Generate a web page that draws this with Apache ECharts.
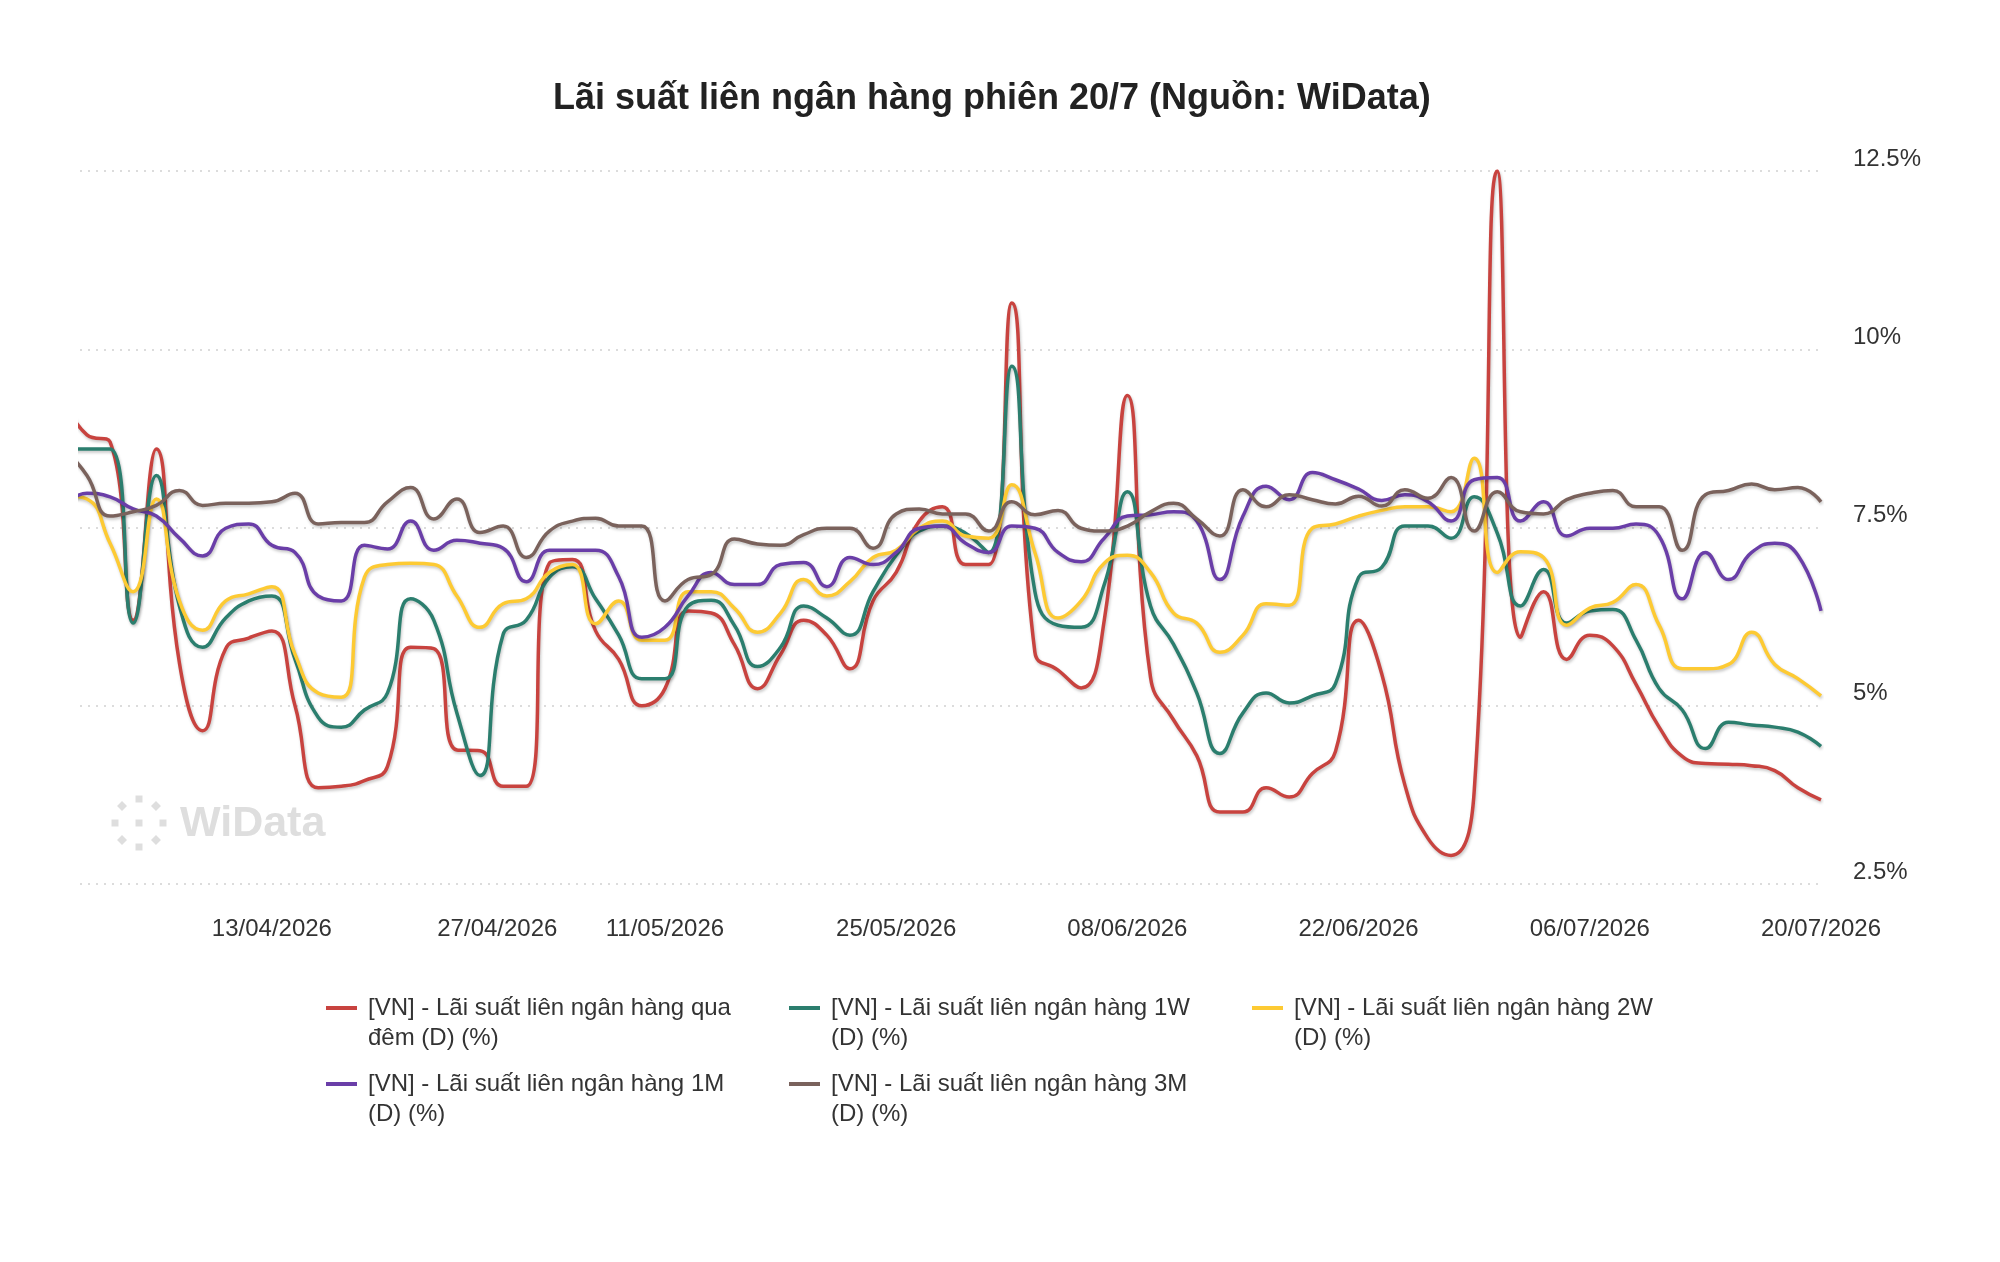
<!DOCTYPE html>
<html>
<head>
<meta charset="utf-8">
<script src="https://cdn.jsdelivr.net/npm/echarts@6/dist/echarts.min.js"></script>
<style>
  html, body { margin: 0; background: #fff; }
  #chart { width: 2000px; height: 1262px; }
</style>
</head>
<body>
<div id="chart"></div>
<script>
// phiên giao dịch (bỏ nghỉ lễ 27/4, 30/4, 1/5)
const dates = [
  '31/03/2026',
  '01/04/2026', '02/04/2026', '03/04/2026', '06/04/2026', '07/04/2026', '08/04/2026', '09/04/2026', '10/04/2026',
  '13/04/2026', '14/04/2026', '15/04/2026', '16/04/2026', '17/04/2026', '20/04/2026', '21/04/2026', '22/04/2026',
  '23/04/2026', '24/04/2026', '28/04/2026', '29/04/2026',
  '04/05/2026', '05/05/2026', '06/05/2026', '07/05/2026', '08/05/2026', '11/05/2026', '12/05/2026', '13/05/2026',
  '14/05/2026', '15/05/2026', '18/05/2026', '19/05/2026', '20/05/2026', '21/05/2026', '22/05/2026', '25/05/2026',
  '26/05/2026', '27/05/2026', '28/05/2026', '29/05/2026',
  '01/06/2026', '02/06/2026', '03/06/2026', '04/06/2026', '05/06/2026', '08/06/2026', '09/06/2026', '10/06/2026',
  '11/06/2026', '12/06/2026', '15/06/2026', '16/06/2026', '17/06/2026', '18/06/2026', '19/06/2026', '22/06/2026',
  '23/06/2026', '24/06/2026', '25/06/2026', '26/06/2026', '29/06/2026', '30/06/2026',
  '01/07/2026', '02/07/2026', '03/07/2026', '06/07/2026', '07/07/2026', '08/07/2026', '09/07/2026', '10/07/2026',
  '13/07/2026', '14/07/2026', '15/07/2026', '16/07/2026', '17/07/2026', '20/07/2026'
];

const tickLabels = ['13/04/2026', '27/04/2026', '11/05/2026', '25/05/2026', '08/06/2026', '22/06/2026', '06/07/2026', '20/07/2026'];

const seriesNames = [
  '[VN] - Lãi suất liên ngân hàng qua\nđêm (D) (%)',
  '[VN] - Lãi suất liên ngân hàng 1W\n(D) (%)',
  '[VN] - Lãi suất liên ngân hàng 2W\n(D) (%)',
  '[VN] - Lãi suất liên ngân hàng 1M\n(D) (%)',
  '[VN] - Lãi suất liên ngân hàng 3M\n(D) (%)'
];

const overnight = [
  9.3, 8.8, 8.7, 6.2, 8.6, 5.6, 4.65, 5.8, 5.95, 6.05, 5.0, 3.85, 3.87, 3.95, 4.15, 5.82, 5.8, 4.38, 4.37, 3.87,
  3.87, 7.0, 7.05, 6.05, 5.65, 5.0, 5.24, 6.33, 6.3, 5.86, 5.24, 5.72, 6.2, 5.99, 5.52, 6.47, 6.87, 7.59, 7.79, 6.98,
  6.98, 10.65, 5.75, 5.5, 5.25, 6.2, 9.35, 5.4, 4.8, 4.3, 3.51, 3.51, 3.85, 3.72, 4.05, 4.36, 6.2, 5.45, 3.89, 3.14,
  2.9, 3.8, 12.5, 5.96, 6.6, 5.65, 5.99, 5.84, 5.3, 4.7, 4.29, 4.19, 4.18, 4.16, 4.09, 3.85, 3.68
];
const week1 = [
  8.6, 8.6, 8.6, 6.16, 8.23, 6.4, 5.82, 6.23, 6.47, 6.54, 5.65, 4.84, 4.7, 4.94, 5.18, 6.5, 6.2, 4.9, 4.02, 6.0,
  6.2, 6.8, 6.95, 6.5, 5.99, 5.38, 5.38, 6.4, 6.48, 6.13, 5.55, 5.82, 6.4, 6.23, 5.99, 6.6, 7.11, 7.45, 7.52, 7.42,
  7.15, 9.76, 6.6, 6.13, 6.1, 6.7, 8.0, 6.4, 5.86, 5.18, 4.33, 4.9, 5.18, 5.04, 5.14, 5.31, 6.8, 6.94, 7.52, 7.52,
  7.35, 7.93, 7.42, 6.4, 6.91, 6.16, 6.33, 6.35, 5.92, 5.24, 4.94, 4.4, 4.77, 4.73, 4.7, 4.63, 4.43
];
const week2 = [
  7.95, 7.9, 7.28, 6.6, 7.9, 6.47, 6.06, 6.47, 6.57, 6.67, 5.72, 5.18, 5.12, 6.8, 6.98, 7.0, 6.98, 6.54, 6.1, 6.43,
  6.5, 6.87, 6.98, 6.15, 6.47, 5.92, 5.92, 6.6, 6.6, 6.37, 6.03, 6.3, 6.77, 6.54, 6.74, 7.08, 7.18, 7.49, 7.59, 7.38,
  7.35, 8.1, 7.15, 6.23, 6.47, 7.0, 7.11, 6.87, 6.3, 6.16, 5.75, 5.99, 6.43, 6.41, 7.49, 7.55, 7.66, 7.74, 7.79, 7.79,
  7.72, 8.47, 6.87, 7.16, 7.08, 6.13, 6.37, 6.45, 6.7, 6.13, 5.52, 5.52, 5.58, 6.03, 5.58, 5.38, 5.14
];
const month1 = [
  7.8, 7.98, 7.93, 7.76, 7.66, 7.35, 7.1, 7.49, 7.55, 7.25, 7.15, 6.54, 6.47, 7.25, 7.2, 7.59, 7.18, 7.32, 7.28, 7.21,
  6.74, 7.18, 7.18, 7.18, 6.81, 5.96, 6.1, 6.54, 6.87, 6.7, 6.7, 6.98, 7.01, 6.67, 7.08, 6.98, 7.15, 7.49, 7.52, 7.28,
  7.15, 7.52, 7.49, 7.15, 7.02, 7.35, 7.66, 7.68, 7.72, 7.59, 6.77, 7.66, 8.08, 7.89, 8.27, 8.17, 8.04, 7.88, 7.96, 7.86,
  7.59, 8.17, 8.2, 7.59, 7.86, 7.38, 7.49, 7.49, 7.55, 7.38, 6.5, 7.15, 6.77, 7.15, 7.28, 7.11, 6.33
];
const month3 = [
  8.6, 8.23, 7.66, 7.72, 7.81, 8.02, 7.81, 7.84, 7.84, 7.86, 7.98, 7.55, 7.57, 7.57, 7.86, 8.06, 7.62, 7.9, 7.43, 7.52,
  7.08, 7.45, 7.59, 7.63, 7.52, 7.52, 6.47, 6.77, 6.84, 7.34, 7.27, 7.25, 7.4, 7.49, 7.49, 7.21, 7.69, 7.76, 7.69, 7.69,
  7.45, 7.86, 7.68, 7.74, 7.49, 7.45, 7.52, 7.72, 7.84, 7.62, 7.38, 8.03, 7.79, 7.96, 7.89, 7.83, 7.94, 7.8, 8.03, 7.91,
  8.2, 7.45, 8.0, 7.72, 7.69, 7.89, 7.98, 8.02, 7.79, 7.79, 7.18, 7.96, 8.02, 8.11, 8.03, 8.06, 7.86
];

const colors = ['#c8433f', '#2b7e6e', '#fdca33', '#6a3ea8', '#7a625c'];
const font = "'Liberation Sans', Arial, sans-serif";

// vị trí nhãn theo trục thứ tự (ngày nghỉ nội suy giữa hai phiên)
function toTime(s) {
  const [d, m, y] = s.split('/').map(Number);
  return Date.UTC(y, m - 1, d);
}
const times = dates.map(toTime);
function ordinalPos(label) {
  const t = toTime(label);
  for (let i = 0; i < times.length - 1; i++) {
    if (t >= times[i] && t <= times[i + 1]) {
      return i + (t - times[i]) / (times[i + 1] - times[i]);
    }
  }
  return times.length - 1;
}
const tickPos = tickLabels.map(ordinalPos);

const chart = echarts.init(document.getElementById('chart'));

// dòng trống phía trên để biểu tượng thẳng hàng với dòng đầu của chú thích
const legendCommon = {
  orient: 'horizontal',
  padding: 0,
  itemGap: 16,
  itemWidth: 31,
  itemHeight: 4,
  icon: 'rect',
  width: 1450,
  formatter: (name) => '\n' + name,
  textStyle: {
    fontFamily: font,
    fontSize: 24,
    color: '#333',
    lineHeight: 30,
    width: 405,
    padding: [0, 0, 0, 6]
  }
};

// logo chấm tròn của watermark
const logoDots = [{ type: 'rect', x: 139, y: 823, shape: { x: -3.5, y: -3.5, width: 7, height: 7 }, style: { fill: '#dedede' } }];
for (let k = 0; k < 8; k++) {
  const a = k * Math.PI / 4;
  logoDots.push({
    type: 'rect',
    x: 139 + 24 * Math.cos(a),
    y: 823 + 24 * Math.sin(a),
    rotation: -a,
    shape: { x: -3.5, y: -3.5, width: 7, height: 7 },
    style: { fill: '#dedede' }
  });
}

const option = {
  backgroundColor: '#fff',
  animation: false,
  color: colors,
  title: {
    text: 'Lãi suất liên ngân hàng phiên 20/7 (Nguồn: WiData)',
    left: 548,
    top: 76,
    textStyle: { fontFamily: font, fontSize: 36, fontWeight: 'bold', color: '#222' }
  },
  graphic: [
    ...logoDots,
    {
      type: 'text',
      left: 180,
      top: 803,
      style: { text: 'WiData', font: "bold 43px 'Liberation Sans', Arial, sans-serif", fill: '#dedede' }
    }
  ],
  legend: [
    Object.assign({ data: seriesNames.slice(0, 3), left: 326, top: 963 }, legendCommon),
    Object.assign({ data: seriesNames.slice(3), left: 326, top: 1039 }, legendCommon)
  ],
  grid: { left: 80, right: 179, top: 171, bottom: 378 },
  xAxis: {
    type: 'value',
    min: 0.7,
    max: dates.length - 1,
    axisLine: { show: false },
    axisTick: { show: false },
    splitLine: { show: false },
    axisLabel: {
      customValues: tickPos,
      margin: 33,
      fontFamily: font,
      fontSize: 24,
      color: '#333',
      formatter: (v) => {
        const k = tickPos.findIndex((p) => Math.abs(p - v) < 1e-6);
        return k >= 0 ? tickLabels[k] : '';
      }
    }
  },
  yAxis: {
    type: 'value',
    position: 'right',
    min: 2.5,
    max: 12.5,
    interval: 2.5,
    axisLine: { show: false },
    axisTick: { show: false },
    splitLine: { lineStyle: { color: '#dcdcdc', width: 2, type: [2, 6] } },
    axisLabel: {
      margin: 32,
      fontFamily: font,
      fontSize: 24,
      color: '#333',
      verticalAlign: 'bottom',
      formatter: (v) => v + '%'
    }
  },
  series: [overnight, week1, week2, month1, month3].map((vals, s) => ({
    name: seriesNames[s],
    type: 'line',
    smooth: true,
    showSymbol: false,
    data: vals.map((v, i) => [i, v]),
    lineStyle: {
      width: 3.5,
      color: colors[s],
      shadowColor: 'rgba(0,0,0,0.22)',
      shadowBlur: 3,
      shadowOffsetX: 1,
      shadowOffsetY: 2
    },
    itemStyle: { color: colors[s] }
  }))
};

chart.setOption(option);
</script>
</body>
</html>
